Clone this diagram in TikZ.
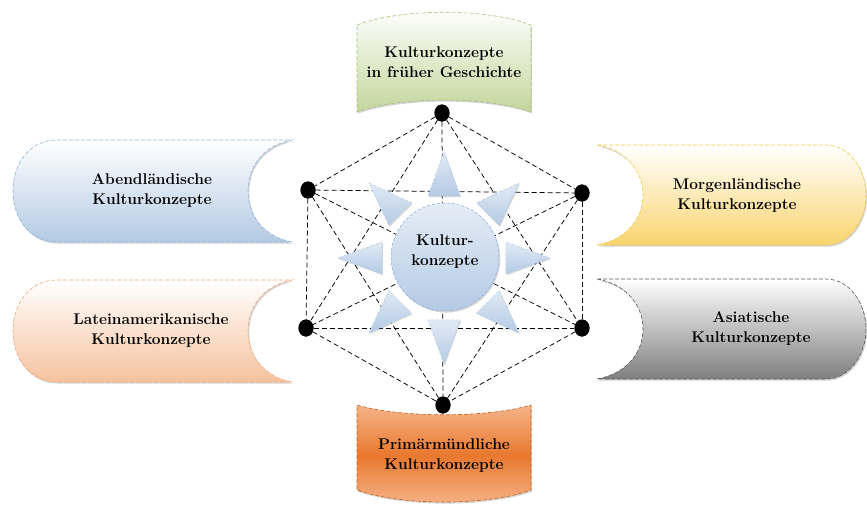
\documentclass[tikz,border=0pt]{standalone}
\usetikzlibrary{shapes.geometric,shadows,calc}
\definecolor{grn}{HTML}{C3D69B}
\definecolor{grnD}{HTML}{A9C47A}
\definecolor{blu}{HTML}{B4CAE4}
\definecolor{bluD}{HTML}{8EB4E3}
\definecolor{yel}{HTML}{F9D46E}
\definecolor{yelD}{HTML}{F5C842}
\definecolor{pch}{HTML}{F5C29E}
\definecolor{pchD}{HTML}{F4A97A}
\definecolor{gry}{HTML}{7F7F7F}
\definecolor{gryD}{HTML}{595959}
\definecolor{orL}{HTML}{F6B48A}
\definecolor{orD}{HTML}{E8782E}
\definecolor{orB}{HTML}{C8621E}
\begin{document}
\begin{tikzpicture}[x=1pt,y=-1pt,
  banner/.style={line width=0.6pt, dash pattern=on 4pt off 2pt,
    drop shadow={shadow xshift=1.2pt,shadow yshift=-1.6pt,opacity=0.35}},
  lbl/.style={font=\bfseries\fontsize{15.5}{20}\selectfont, align=center, inner sep=0pt},
  dot/.style={ellipse, fill=black, minimum width=15pt, minimum height=17pt, inner sep=0pt},
  edge/.style={dash pattern=on 5pt off 3pt, line width=0.75pt},
  tri/.style={draw=bluD!70, line width=0.5pt, dash pattern=on 3pt off 2pt,
    top color=blu!40, bottom color=blu,
    drop shadow={shadow xshift=1pt,shadow yshift=-1.2pt,opacity=0.3}}]
\useasboundingbox (0,0) rectangle (867,506);

% top banner (green)
\path[banner, draw=grnD, top color=white, bottom color=grn]
  (357,25) .. controls (400,8) and (488,8) .. (531,25) -- (531,112)
  .. controls (488,96) and (400,96) .. (357,112) -- cycle;
% bottom banner (orange)
\path[banner, draw=orB, top color=orL, bottom color=orL, middle color=orD]
  (357,405) .. controls (400,418) and (488,418) .. (531,405) -- (531,490)
  .. controls (488,506) and (400,506) .. (357,490) -- cycle;
% left banners
\path[banner, draw=bluD, top color=white, bottom color=blu]
  (57,140) -- (292,140) .. controls (265,145) and (248,165) .. (248,191)
  .. controls (248,217) and (265,237) .. (292,242) -- (57,242)
  .. controls (30,242) and (13,219) .. (13,191) .. controls (13,163) and (30,140) .. (57,140) -- cycle;
\path[banner, draw=pchD, top color=white, bottom color=pch, shift={(0,140)}]
  (57,140) -- (292,140) .. controls (265,145) and (248,165) .. (248,191)
  .. controls (248,217) and (265,237) .. (292,242) -- (57,242)
  .. controls (30,242) and (13,219) .. (13,191) .. controls (13,163) and (30,140) .. (57,140) -- cycle;
% right banners
\path[banner, draw=yelD, top color=white, bottom color=yel]
  (597,145) -- (826,145) .. controls (850,145) and (866,170) .. (866,195)
  .. controls (866,220) and (850,245) .. (826,245) -- (597,245)
  .. controls (625,240) and (643,220) .. (643,195) .. controls (643,170) and (625,150) .. (597,145) -- cycle;
\path[banner, draw=gryD, top color=white, bottom color=gry, shift={(0,134)}]
  (597,145) -- (826,145) .. controls (850,145) and (866,170) .. (866,195)
  .. controls (866,220) and (850,245) .. (826,245) -- (597,245)
  .. controls (625,240) and (643,220) .. (643,195) .. controls (643,170) and (625,150) .. (597,145) -- cycle;

% labels
\node[lbl] (lt) at (444,62) {Kulturkonzepte\\in früher Geschichte};
\node[lbl] (lb) at (444,456) {Primärmündliche\\Kulturkonzepte};
\node[lbl] (ll1) at (152,191) {Abendländische\\Kulturkonzepte};
\node[lbl] (ll2) at (151,331) {Lateinamerikanische\\Kulturkonzepte};
\node[lbl] (lr1) at (737,196) {Morgenländische\\Kulturkonzepte};
\node[lbl] (lr2) at (751,329) {Asiatische\\Kulturkonzepte};

% dots
\node[dot] (t)  at (442,113) {};
\node[dot] (tl) at (308,190) {};
\node[dot] (tr) at (582,193) {};
\node[dot] (bl) at (306,328) {};
\node[dot] (br) at (582,328) {};
\node[dot] (b)  at (443,405) {};

% edges (complete graph)
\foreach \u/\v in {t/tl,t/tr,t/bl,t/br,t/b,tl/tr,tl/bl,tl/br,tl/b,tr/bl,tr/br,tr/b,bl/br,bl/b,br/b}
  \draw[edge] (\u) -- (\v);

% centre circle
\coordinate (C) at (444,258);
\node[circle, minimum size=108pt, inner sep=0pt, draw=bluD, line width=0.6pt,
  dash pattern=on 3pt off 2pt, top color=blu!35, bottom color=blu,
  drop shadow={shadow xshift=1.2pt,shadow yshift=-1.6pt,opacity=0.35}] (K) at (445,257) {};
\node[lbl] (kt) at (445,252) {Kultur-\\konzepte};

% triangles
\foreach \a in {0,45,...,315}
  \path[tri] ([shift={(\a:106)}]C) -- ([shift={(\a+14.5:64)}]C) -- ([shift={(\a-14.5:64)}]C) -- cycle;

% redraw dots on top
\foreach \n in {t,tl,tr,bl,br,b}
  \fill (\n) ellipse (7.5pt and 8.5pt);
\end{tikzpicture}
\end{document}
